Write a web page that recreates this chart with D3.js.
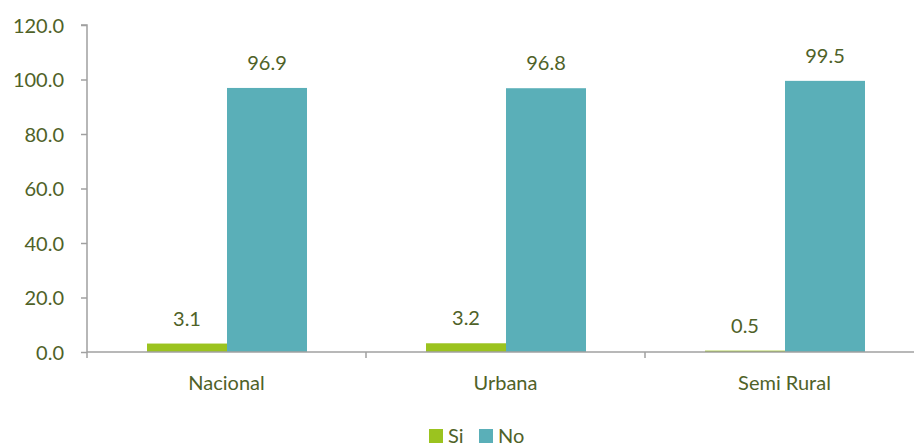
<!DOCTYPE html>
<html><head><meta charset="utf-8">
<script src="https://cdn.jsdelivr.net/npm/d3@7"></script>
<style>
html,body{margin:0;padding:0;background:#fff;}
text{font-family:Lato,"Open Sans",sans-serif;fill:#4F6228;}
</style></head>
<body><svg id="c" width="914" height="446"></svg>
<script>
const categories = ["Nacional", "Urbana", "Semi Rural"];
const seriesNames = ["Si", "No"];
const siValues = [3.1, 3.2, 0.5];
const noValues = [96.9, 96.8, 99.5];
const yTicks = [0, 20, 40, 60, 80, 100, 120];
const colors = ["#9BC31F", "#5AAFB8"];

const svg = d3.select("#c");
const x0 = 87, bandW = 279, yTop = 25, yBot = 352;
const x = d3.scaleBand().domain(categories).range([x0, x0 + bandW * categories.length]).paddingInner(0).paddingOuter(0);
const innerScale = d3.scaleBand().domain(seriesNames).range([60, 220]).padding(0);
const y = d3.scaleLinear().domain([0, 120]).range([yBot, yTop]);

const data = categories.map((c, i) => ({cat: c, vals: [siValues[i], noValues[i]]}));

// axes
const yAxis = d3.axisLeft(y).tickValues(yTicks).tickFormat(d3.format(".1f")).tickSize(6).tickPadding(17);
const gy = svg.append("g").attr("transform", `translate(${x0},0)`).call(yAxis);
gy.selectAll("text").style("font-size", "20px").attr("dy", "0.35em");
gy.selectAll("line,path").attr("stroke", "#A0A0A0").attr("stroke-width", 1.5);
gy.select(".domain").attr("d", `M-6,${yTop}H0V${yBot}`);

const groups = svg.append("g").selectAll("g").data(data).join("g")
  .attr("transform", d => `translate(${x(d.cat)},0)`);
groups.selectAll("rect").data(d => d.vals.map((v, j) => ({v, s: seriesNames[j], j})))
  .join("rect")
  .attr("x", d => innerScale(d.s))
  .attr("width", innerScale.bandwidth())
  .attr("y", d => y(d.v))
  .attr("height", d => yBot - y(d.v))
  .attr("fill", d => colors[d.j]);
groups.selectAll("text.val").data(d => d.vals.map((v, j) => ({v, s: seriesNames[j], j})))
  .join("text").attr("class", "val")
  .attr("x", d => innerScale(d.s) + innerScale.bandwidth() / 2)
  .attr("y", d => y(d.v) - 18)
  .attr("text-anchor", "middle")
  .style("font-size", "20px")
  .text(d => d.v.toFixed(1));

// x axis
const gx = svg.append("g");
gx.append("line").attr("x1", x0).attr("x2", 914).attr("y1", yBot).attr("y2", yBot)
  .attr("stroke", "#A0A0A0").attr("stroke-width", 1.5);
const tickXs = categories.map(c => x(c)).concat([x0 + bandW * categories.length]);
gx.selectAll("line.t").data(tickXs).join("line").attr("class", "t")
  .attr("x1", d => d).attr("x2", d => d).attr("y1", yBot).attr("y2", yBot + 6)
  .attr("stroke", "#A0A0A0").attr("stroke-width", 1.5);
gx.selectAll("text").data(categories).join("text")
  .attr("x", d => x(d) + x.bandwidth() / 2)
  .attr("y", 390).attr("text-anchor", "middle")
  .style("font-size", "20px").text(d => d);

// legend
const leg = svg.append("g");
const legX = [429, 479];
seriesNames.forEach((s, i) => {
  leg.append("rect").attr("x", legX[i]).attr("y", 429).attr("width", 14).attr("height", 14).attr("fill", colors[i]);
  leg.append("text").attr("x", legX[i] + 19).attr("y", 443).style("font-size", "20px").text(s);
});
</script></body></html>
